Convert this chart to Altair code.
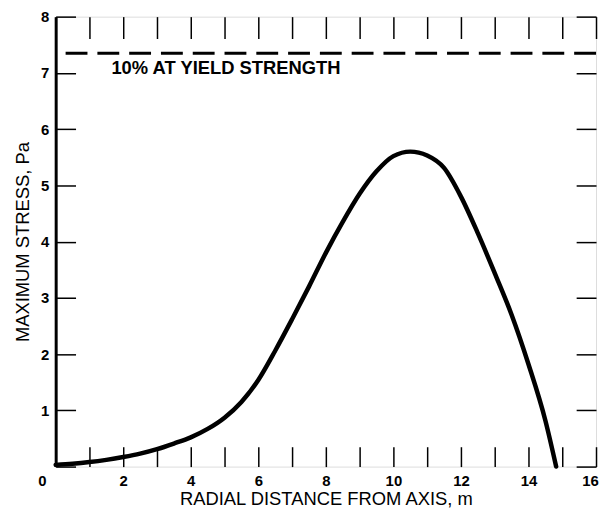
import altair as alt
import pandas as pd

# --- data ---
radial_m = [0, 0.5, 1, 1.5, 2, 2.5, 3, 3.5, 4, 4.5, 5, 5.5, 6, 6.5, 7, 7.5, 8, 8.5, 9, 9.5,
            10, 10.5, 11, 11.5, 12, 12.5, 13, 13.5, 14, 14.5, 14.82]
stress_pa = [0.03, 0.05, 0.08, 0.12, 0.17, 0.23, 0.31, 0.41, 0.52, 0.67, 0.87, 1.15, 1.54, 2.06, 2.62,
             3.20, 3.80, 4.35, 4.85, 5.25, 5.52, 5.60, 5.53, 5.31, 4.80, 4.15, 3.44, 2.70, 1.82, 0.82, 0.0]
yield_level = [7.35]
note_text = ["10% AT YIELD STRENGTH"]
note_x = [1.65]
note_y = [7.08]
x_ticks = list(range(0, 17))
y_ticks = list(range(0, 9))

curve = pd.DataFrame({"r": radial_m, "s": stress_pa})
yield_df = pd.DataFrame({"s": yield_level})
note_df = pd.DataFrame({"r": note_x, "s": note_y, "t": note_text})

FONT = "Liberation Sans"
x_scale = alt.Scale(domain=[0, 16], nice=False, zero=False)
y_scale = alt.Scale(domain=[0, 8], nice=False)

inward = alt.ExprRef(expr="-20")

x_bottom = alt.Axis(
    orient="bottom", values=x_ticks, tickSize=inward, tickWidth=1.5, tickColor="black",
    labelExpr="datum.value % 2 == 0 ? datum.label : ''", labelOverlap=False,
    labelFont=FONT, labelFontSize=15, labelFontWeight="bold", labelColor="black",
    labelPadding=27, labelFlush=False,
    labelOffset=alt.ExprRef(expr="datum.value == 0 ? -14 : (datum.value == 16 ? -6 : 0)"),
    title="RADIAL DISTANCE FROM AXIS, m", titleFont=FONT, titleFontSize=18.5,
    titleFontWeight="normal", titleColor="black", titlePadding=1,
    domain=False, grid=False,
)
y_left = alt.Axis(
    orient="left", values=y_ticks, tickSize=inward, tickWidth=1.5, tickColor="black",
    labelExpr="datum.value == 0 ? '' : datum.label", labelOverlap=False,
    labelFont=FONT, labelFontSize=15, labelFontWeight="bold", labelColor="black",
    labelPadding=27, labelFlush=False,
    title="MAXIMUM STRESS, Pa", titleFont=FONT, titleFontSize=18.5,
    titleFontWeight="normal", titleColor="black", titlePadding=8,
    domain=True, domainWidth=3, domainColor="black", grid=False,
)
x_top = alt.Axis(
    orient="top", values=x_ticks, tickSize=alt.ExprRef(expr="-22"), tickWidth=1.5,
    tickColor="black", labels=False, title=None, domain=False, grid=False,
)
y_right = alt.Axis(
    orient="right", values=y_ticks, tickSize=inward, tickWidth=1.5,
    tickColor="black", labels=False, title=None, domain=False, grid=False,
)

line = alt.Chart(curve).mark_line(
    color="black", strokeWidth=4.5, interpolate="monotone", strokeCap="round"
).encode(
    x=alt.X("r:Q", scale=x_scale, axis=x_bottom),
    y=alt.Y("s:Q", scale=y_scale, axis=y_left),
)

frame_axes = alt.Chart(curve).mark_point(opacity=0).encode(
    x=alt.X("r:Q", scale=x_scale, axis=x_top),
    y=alt.Y("s:Q", scale=y_scale, axis=y_right),
)

yield_rule = alt.Chart(yield_df).mark_rule(
    color="black", strokeWidth=3, strokeDash=[22, 10]
).encode(y=alt.Y("s:Q", scale=y_scale, axis=None))

note = alt.Chart(note_df).mark_text(
    align="left", baseline="middle", font=FONT, fontSize=18.5, fontWeight="bold", color="black"
).encode(
    x=alt.X("r:Q", scale=x_scale, axis=None),
    y=alt.Y("s:Q", scale=y_scale, axis=None),
    text="t:N",
)

chart = alt.layer(line, frame_axes, yield_rule, note).resolve_axis(
    x="independent", y="independent"
).properties(
    width=544, height=453,
    padding={"left": 48, "top": 7, "right": 3, "bottom": 40},
    autosize="none",
).configure_view(stroke="black", strokeWidth=2).configure(background="white")

chart.save("out.html", embed_options={"renderer": "svg", "actions": False})
